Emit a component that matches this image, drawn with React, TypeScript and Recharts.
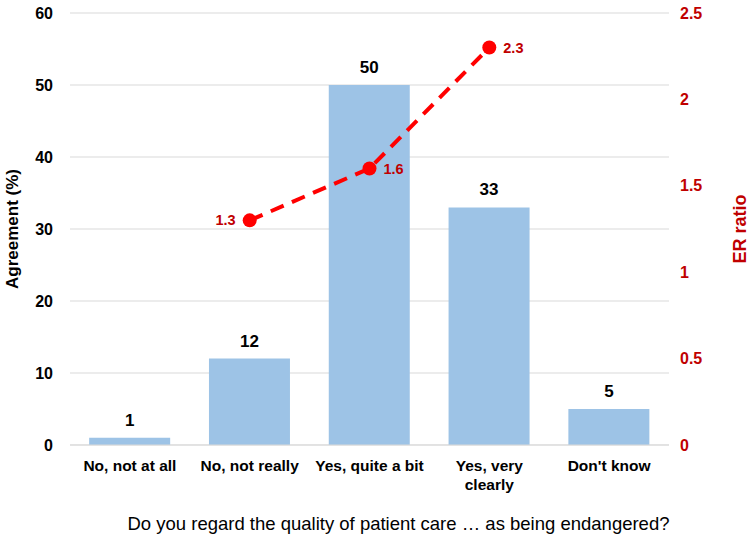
import { ComposedChart, Bar, Line, XAxis, YAxis, CartesianGrid, LabelList, Label } from 'recharts'

const categories = ['No, not at all', 'No, not really', 'Yes, quite a bit', 'Yes, very clearly', "Don't know"]
const agreement = [1, 12, 50, 33, 5]
const erRatio: (number | null)[] = [null, 1.3, 1.6, 2.3, null]

const leftTicks = [0, 10, 20, 30, 40, 50, 60]
const rightTicks = [0, 0.5, 1, 1.5, 2, 2.5]

// wrapped lines for the category labels
const tickLines: Record<string, string[]> = {
  'Yes, very clearly': ['Yes, very', 'clearly'],
}

const BAR_BLUE = '#9dc3e6'
const LINE_RED = '#ff0000'
const TEXT_RED = '#c00000'
const FONT = '"Liberation Sans", Arial, sans-serif'

const data = categories.map((c, i) => ({
  category: c,
  agreement: agreement[i],
  er: erRatio[i],
}))

function CategoryTick(props: any) {
  const { x, y, payload } = props
  const lines = tickLines[payload.value] ?? [payload.value]
  return (
    <g>
      {lines.map((l, i) => (
        <text
          key={i}
          x={x}
          y={y + 24 + i * 19}
          textAnchor="middle"
          fontFamily={FONT}
          fontSize={15.5}
          fontWeight="bold"
          fill="#000"
        >
          {l}
        </text>
      ))}
    </g>
  )
}

function renderErLabel(props: any) {
  const { x, y, value, index } = props
  if (value == null) return null
  const left = index === 1
  return (
    <text
      x={left ? x - 14 : x + 14}
      y={y + 5}
      textAnchor={left ? 'end' : 'start'}
      fontFamily={FONT}
      fontSize={14.5}
      fontWeight="bold"
      fill={TEXT_RED}
    >
      {value}
    </text>
  )
}

export default function App() {
  return (
    <div style={{ position: 'absolute', left: 0, top: 0, background: '#fff' }}>
      <ComposedChart
        width={749}
        height={536}
        data={data}
        margin={{ top: 13, right: 0, left: 0, bottom: 0 }}
        barCategoryGap="16%"
      >
        <CartesianGrid yAxisId="left" vertical={false} stroke="#d9d9d9" />
        <XAxis
          dataKey="category"
          height={91}
          axisLine={{ stroke: '#d9d9d9' }}
          tickLine={false}
          tickSize={0}
          tick={<CategoryTick />}
          interval={0}
        >
          <Label
            value="Do you regard the quality of patient care … as being endangered?"
            position="insideBottom"
            offset={6}
            dx={29}
            style={{ fontFamily: FONT, fontSize: 18.5, fill: '#000' }}
          />
        </XAxis>
        <YAxis
          yAxisId="left"
          width={70}
          domain={[0, 60]}
          ticks={leftTicks}
          axisLine={false}
          tickLine={false}
          tickSize={0}
          tickMargin={17}
          tick={{ fontFamily: FONT, fontSize: 16, fontWeight: 'bold', fill: '#000' }}
        >
          <Label
            value="Agreement (%)"
            angle={-90}
            position="center"
            dx={-23}
            style={{ fontFamily: FONT, fontSize: 17, fontWeight: 'bold', fill: '#000', textAnchor: 'middle' }}
          />
        </YAxis>
        <YAxis
          yAxisId="right"
          orientation="right"
          width={80}
          domain={[0, 2.5]}
          ticks={rightTicks}
          axisLine={false}
          tickLine={false}
          tickSize={0}
          tickMargin={11}
          tick={{ fontFamily: FONT, fontSize: 16, fontWeight: 'bold', fill: TEXT_RED }}
        >
          <Label
            value="ER ratio"
            angle={-90}
            position="center"
            dx={31}
            style={{ fontFamily: FONT, fontSize: 18, fontWeight: 'bold', fill: TEXT_RED, textAnchor: 'middle' }}
          />
        </YAxis>
        <Bar yAxisId="left" dataKey="agreement" fill={BAR_BLUE} isAnimationActive={false}>
          <LabelList
            dataKey="agreement"
            position="top"
            offset={12}
            style={{ fontFamily: FONT, fontSize: 17, fontWeight: 'bold', fill: '#000' }}
          />
        </Bar>
        <Line
          yAxisId="right"
          type="linear"
          dataKey="er"
          stroke={LINE_RED}
          strokeWidth={4}
          strokeDasharray="14 9"
          dot={{ r: 7, fill: LINE_RED, stroke: 'none' }}
          activeDot={false}
          label={renderErLabel}
          isAnimationActive={false}
        />
      </ComposedChart>
    </div>
  )
}
